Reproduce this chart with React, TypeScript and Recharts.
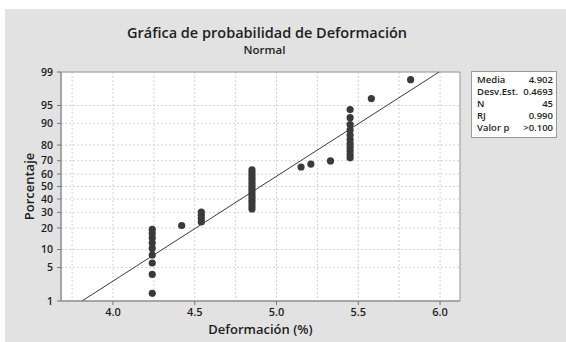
import React from "react";
import {
  ComposedChart,
  Scatter,
  XAxis,
  YAxis,
  CartesianGrid,
  ReferenceLine,
  ReferenceArea,
} from "recharts";

// observed strain values (sorted) and their plotted percentages
const deformacion = [
  4.24, 4.24, 4.24, 4.24, 4.24, 4.24, 4.24, 4.24, 4.24,
  4.42,
  4.54, 4.54, 4.54, 4.54,
  4.85, 4.85, 4.85, 4.85, 4.85, 4.85, 4.85, 4.85, 4.85, 4.85, 4.85, 4.85, 4.85, 4.85, 4.85,
  5.15, 5.21, 5.33,
  5.45, 5.45, 5.45, 5.45, 5.45, 5.45, 5.45, 5.45, 5.45, 5.45, 5.45,
  5.58, 5.82,
];
const porcentaje = [
  1.5, 3.7, 6.0, 8.2, 10.4, 12.6, 14.8, 17.0, 19.2,
  21.4,
  23.6, 25.8, 28.0, 30.2,
  32.4, 34.6, 36.8, 39.0, 41.2, 43.4, 45.6, 47.8, 50.0, 52.2, 54.4, 56.6, 58.8, 61.0, 63.2,
  65.4, 67.6, 69.8,
  72.0, 74.2, 76.4, 78.6, 80.8, 83.0, 85.2, 87.4, 89.6, 91.9, 94.1,
  96.3, 98.5,
];

// fitted normal line end points
const fitX = [3.81, 5.994];
const fitP = [1, 99];

const yTickPct = [1, 5, 10, 20, 30, 40, 50, 60, 70, 80, 90, 95, 99];
const xTicks = [3.75, 4.0, 4.25, 4.5, 4.75, 5.0, 5.25, 5.5, 5.75, 6.0];

const statLabels = ["Media", "Desv.Est.", "N", "RJ", "Valor p"];
const statValues = ["4.902", "0.4693", "45", "0.990", ">0.100"];

const FONT = "'Open Sans', 'Noto Sans', sans-serif";
const INK = "#1e1e1e";

// inverse of the standard normal cdf (Acklam)
function probit(p: number): number {
  const a = [-39.69683028665376, 220.9460984245205, -275.9285104469687, 138.357751867269, -30.66479806614716, 2.506628277459239];
  const b = [-54.47609879822406, 161.5858368580409, -155.6989798598866, 66.80131188771972, -13.28068155288572];
  const c = [-0.007784894002430293, -0.3223964580411365, -2.400758277161838, -2.549732539343734, 4.374664141464968, 2.938163982698783];
  const d = [0.007784695709041462, 0.3224671290700398, 2.445134137142996, 3.754408661907416];
  const pl = 0.02425;
  if (p < pl) {
    const q = Math.sqrt(-2 * Math.log(p));
    return (((((c[0] * q + c[1]) * q + c[2]) * q + c[3]) * q + c[4]) * q + c[5]) /
      ((((d[0] * q + d[1]) * q + d[2]) * q + d[3]) * q + 1);
  }
  if (p > 1 - pl) {
    const q = Math.sqrt(-2 * Math.log(1 - p));
    return -(((((c[0] * q + c[1]) * q + c[2]) * q + c[3]) * q + c[4]) * q + c[5]) /
      ((((d[0] * q + d[1]) * q + d[2]) * q + d[3]) * q + 1);
  }
  const q = p - 0.5;
  const r = q * q;
  return (((((a[0] * r + a[1]) * r + a[2]) * r + a[3]) * r + a[4]) * r + a[5]) * q /
    (((((b[0] * r + b[1]) * r + b[2]) * r + b[3]) * r + b[4]) * r + 1);
}

const points = deformacion.map((x, i) => ({ x, z: probit(porcentaje[i] / 100) }));
const yTicks = yTickPct.map((p) => probit(p / 100));
const yMin = yTicks[0];
const yMax = yTicks[yTicks.length - 1];
const xMin = 3.682;
const xMax = 6.122;

const XTick = (props: any) => {
  const { x, y, payload } = props;
  const v = payload.value as number;
  if (Math.abs(v * 2 - Math.round(v * 2)) > 1e-6) return null;
  return (
    <g>
      <line x1={x} x2={x} y1={y - 6} y2={y - 2} stroke="#777" />
      <text x={x} y={y} dy="0.8em" textAnchor="middle" fontSize={11} fontWeight={600} fill={INK} fontFamily={FONT}>
        {v.toFixed(1)}
      </text>
    </g>
  );
};

const Dot = (props: any) => <circle cx={props.cx} cy={props.cy} r={3.6} fill="#3a3a3a" />;

export default function App() {
  return (
    <div style={{ position: "absolute", left: 0, top: 0, width: 566, height: 342, background: "#fff", fontFamily: FONT }}>
      <div style={{ position: "absolute", left: 5, top: 9, right: 0, bottom: 0, background: "#e2e2e2" }} />
      <div style={{ position: "absolute", left: 0, top: 0 }}>
        <ComposedChart width={566} height={342} margin={{ top: 72, right: 106, bottom: 0, left: 0 }}>
          <CartesianGrid
            fill="#ffffff"
            stroke="#d2d2d2"
            strokeDasharray="2 2"
          />
          <XAxis
            type="number"
            dataKey="x"
            domain={[xMin, xMax]}
            ticks={xTicks}
            allowDataOverflow
            interval={0}
            height={41}
            tickSize={4}
            tickMargin={2}
            tickLine={false}
            tick={<XTick />}
            axisLine={{ stroke: "#8a8a8a" }}
            label={{ value: "Deformación (%)", position: "center", dy: 8, fontSize: 13, fontWeight: 600, fill: INK, fontFamily: FONT }}
          />
          <YAxis
            type="number"
            dataKey="z"
            domain={[yMin, yMax]}
            ticks={yTicks}
            allowDataOverflow
            width={61}
            tickSize={4}
            tickMargin={4}
            interval={0}
            tickFormatter={(v: number) => {
              const i = yTicks.findIndex((t) => Math.abs(t - v) < 1e-6);
              return i >= 0 ? String(yTickPct[i]) : "";
            }}
            tick={{ fontSize: 10.5, fontWeight: 600, fill: INK, fontFamily: FONT }}
            tickLine={{ stroke: "#777" }}
            axisLine={{ stroke: "#8a8a8a" }}
            label={{ value: "Porcentaje", angle: -90, position: "center", dx: -1, fontSize: 13, fontWeight: 600, fill: INK, fontFamily: FONT, style: { textAnchor: "middle" } }}
          />
          <ReferenceLine
            segment={[
              { x: fitX[0], y: probit(fitP[0] / 100) },
              { x: fitX[1], y: probit(fitP[1] / 100) },
            ]}
            stroke="#3a3a3a"
            strokeWidth={1}
            ifOverflow="visible"
          />
          <Scatter data={points} dataKey="z" shape={<Dot />} isAnimationActive={false} />
          <ReferenceArea x1={xMin} x2={xMax} y1={yMin} y2={yMax} fill="none" stroke="#9a9a9a" ifOverflow="visible" />
        </ComposedChart>
      </div>
      <div style={{ position: "absolute", left: 0, width: 534, top: 24, textAlign: "center", fontSize: 14.5, fontWeight: 600, color: INK, lineHeight: "18px" }}>
        Gráfica de probabilidad de Deformación
      </div>
      <div style={{ position: "absolute", left: 0, width: 529, top: 42, textAlign: "center", fontSize: 11.5, fontWeight: 600, color: INK, lineHeight: "16px" }}>
        Normal
      </div>
      <div
        style={{
          position: "absolute",
          left: 471,
          top: 71,
          width: 86,
          boxSizing: "border-box",
          border: "1px solid #9a9a9a",
          background: "#fff",
          padding: "2px 3px 3px 5px",
          fontSize: 9.5,
          fontWeight: 600,
          color: INK,
          lineHeight: "12px",
        }}
      >
        {statLabels.map((l, i) => (
          <div key={l} style={{ display: "flex", justifyContent: "space-between", gap: 2 }}>
            <span>{l}</span>
            <span>{statValues[i]}</span>
          </div>
        ))}
      </div>
    </div>
  );
}
